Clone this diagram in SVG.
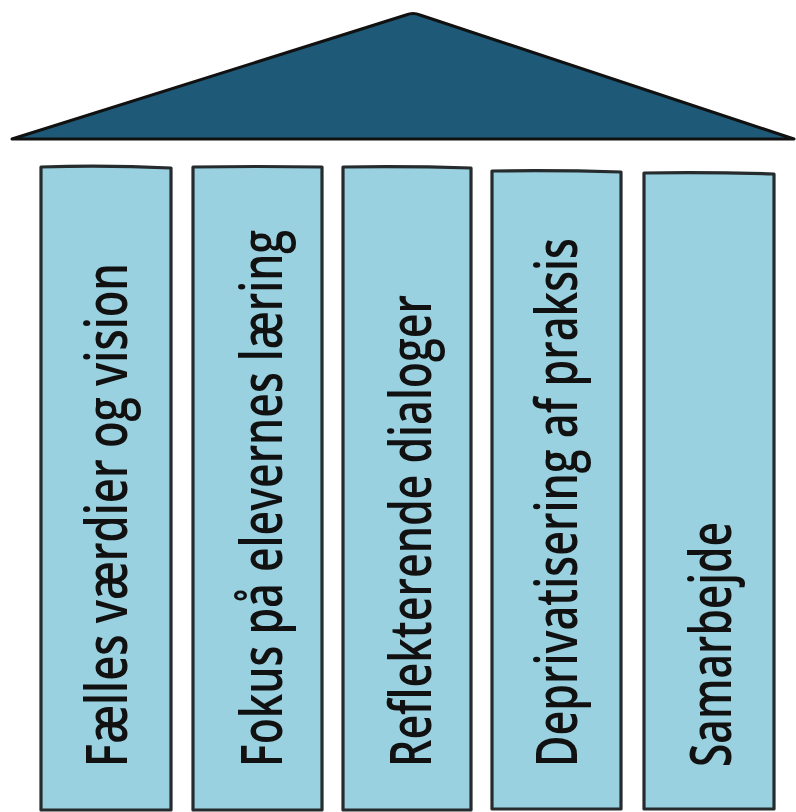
<svg xmlns="http://www.w3.org/2000/svg" width="796" height="812" viewBox="0 0 796 812">
<style>
.roof{fill:#1e5a78;stroke:#111;stroke-width:3;stroke-linejoin:round}
.pillar{fill:#99d1e0;stroke:#262b2d;stroke-width:3.2;stroke-linejoin:round}
.lbl{font-family:"Open Sans","DejaVu Sans",sans-serif;font-size:58px;font-weight:600;fill:#111}
</style>
<rect width="796" height="812" fill="#fff"/>
<g id="roof"><path class="roof" d="M12,139 L406,15 Q413,12 420,15 L794,139 Z"/></g>
<g id="pillar1"><path class="pillar" d="M41,167 Q106,165 171,168 L171,810 L41,810 Z"/>
<text class="lbl" transform="translate(127,767) rotate(-90)" textLength="504" lengthAdjust="spacingAndGlyphs">Fælles værdier og vision</text></g>
<g id="pillar2"><path class="pillar" d="M193,167 Q258,166 322,167 L322,810 L193,810 Z"/>
<text class="lbl" transform="translate(282,767) rotate(-90)" textLength="537" lengthAdjust="spacingAndGlyphs">Fokus på elevernes læring</text></g>
<g id="pillar3"><path class="pillar" d="M343,167 Q407,166 471,168 L471,810 L343,810 Z"/>
<text class="lbl" transform="translate(431,767) rotate(-90)" textLength="472" lengthAdjust="spacingAndGlyphs">Reflekterende dialoger</text></g>
<g id="pillar4"><path class="pillar" d="M492,171 Q557,170 621,172 L621,809 L492,809 Z"/>
<text class="lbl" transform="translate(577,767) rotate(-90)" textLength="529" lengthAdjust="spacingAndGlyphs">Deprivatisering af praksis</text></g>
<g id="pillar5"><path class="pillar" d="M644,173 Q709,172 774,174 L774,809 L644,809 Z"/>
<text class="lbl" transform="translate(731,767) rotate(-90)" textLength="245" lengthAdjust="spacingAndGlyphs">Samarbejde</text></g>
<g id="connectors"/>
</svg>
